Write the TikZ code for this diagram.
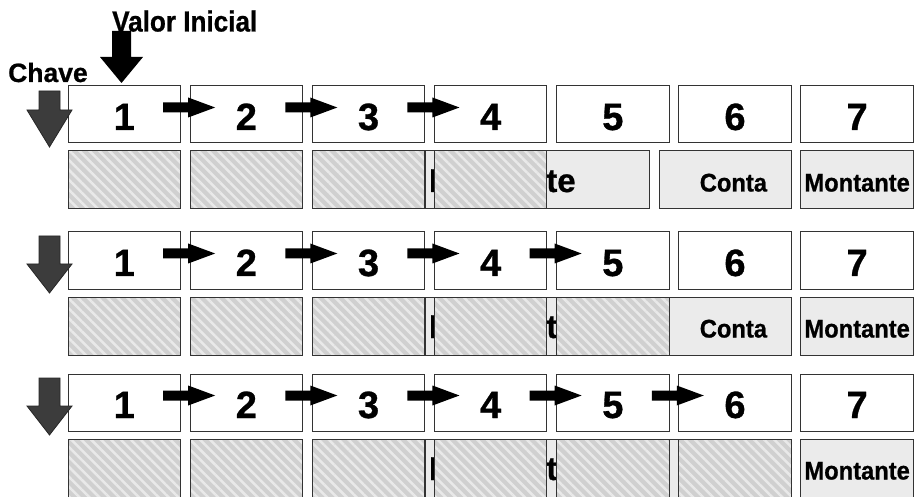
\documentclass[tikz,border=0pt]{standalone}
\usepackage{fontspec}
\setmainfont{Liberation Sans}
\newfontfamily\condA[FakeStretch=0.9,FakeBold=0.8]{Liberation Sans}
\newfontfamily\condB[FakeStretch=0.93,FakeBold=0.8]{Liberation Sans}
\newfontfamily\digfont[FakeBold=0.8]{Liberation Sans}
\usetikzlibrary{patterns.meta,calc}
\definecolor{bordc}{HTML}{333333}
\definecolor{lightbox}{HTML}{EBEBEB}
\definecolor{hatchbase}{HTML}{D0D0D0}
\definecolor{hatchline}{HTML}{E9E9E9}
\definecolor{darkarrow}{HTML}{3C3C3C}
\begin{document}
\begin{tikzpicture}[x=1pt,y=-1pt,
  numbox/.style={draw=bordc,line width=1pt,fill=white,minimum width=112.5pt,minimum height=57pt,
    inner sep=0pt,outer sep=0pt,anchor=north west,font=\digfont\fontsize{38}{38}\selectfont\bfseries,
    text height=31pt,text depth=0pt},
  hatchbox/.style={draw=bordc,line width=1pt,minimum width=112.5pt,minimum height=58pt,
    inner sep=0pt,outer sep=0pt,anchor=north west,preaction={fill=hatchbase},
    pattern={Lines[angle=-45,distance=7pt,line width=2.5pt]},pattern color=hatchline},
  graybox/.style={draw=bordc,line width=1pt,fill=lightbox,minimum height=58pt,
    inner sep=0pt,outer sep=0pt,anchor=north west,font=\condB\fontsize{25.5}{25.5}\selectfont\bfseries,
    text height=23pt,text depth=0pt},
  lbl/.style={font=\condA\fontsize{29}{29}\selectfont\bfseries,inner sep=0pt,anchor=base west},
  rarrow/.style={fill=black},
  darr/.style={fill=darkarrow,draw=black!85,line width=0.8pt},
]
\useasboundingbox (0,0) rectangle (916,497);

\foreach \r/\ty/\by/\nh in {1/86/151/4, 2/232/297/5, 3/374/439/6} {
  % partly hidden light boxes
  \node[graybox,minimum width=224pt,text width=216pt,inner xsep=4pt,align=left,
        font=\digfont\fontsize{33}{33}\selectfont\bfseries,text height=24pt] (m\r) at (425,\by) {Montante};
  \node[graybox,minimum width=132pt,text width=84pt,inner xsep=24pt,align=right] (c\r) at (659,\by)
        {\ifnum\r<3 Conta\fi};
  \node[graybox,minimum width=112.5pt] (v\r) at (800.9,\by) {Montante};
  % hatched boxes
  \foreach \i in {1,...,\nh} {
    \node[hatchbox] (h\r\i) at ({68+122.15*(\i-1)},\by) {};
  }
  % numbered boxes
  \foreach \i in {1,...,7} {
    \node[numbox] (t\r\i) at ({68+122.15*(\i-1)},\ty) {\i};
  }
  % right arrows
  \foreach \i in {2,...,\nh} {
    \fill[rarrow,shift={(t\r\i.north west)}] (-27,16.5) -- (-2,16.5) -- (-2,11.5) -- (25,21.5)
      -- (-2,31.5) -- (-2,26.5) -- (-27,26.5) -- cycle;
  }
}

% dark down arrows (Chave)
\draw[darr,shift={(t11.north west)}] (-29,5) -- (-8,5) -- (-8,24) -- (4,24) -- (-18.5,61)
  -- (-41,24) -- (-29,24) -- cycle;
\draw[darr,shift={(t21.north west)}] (-29,4) -- (-8,4) -- (-8,32) -- (4,32) -- (-18.5,61)
  -- (-41,32) -- (-29,32) -- cycle;
\draw[darr,shift={(t31.north west)}] (-29,4) -- (-8,4) -- (-8,32) -- (4,32) -- (-18.5,61)
  -- (-41,32) -- (-29,32) -- cycle;

% labels
\node[lbl] (vi) at (112,31.5) {Valor Inicial};
\node[lbl,font=\digfont\fontsize{26.5}{26.5}\selectfont\bfseries] (ch) at (8,82) {Chave};

% black down arrow (Valor Inicial)
\fill[black,shift={(t11.north west)}] (44,-55) -- (63,-55) -- (63,-29) -- (75,-29) -- (53.5,-3)
  -- (32,-29) -- (44,-29) -- cycle;
\end{tikzpicture}
\end{document}
